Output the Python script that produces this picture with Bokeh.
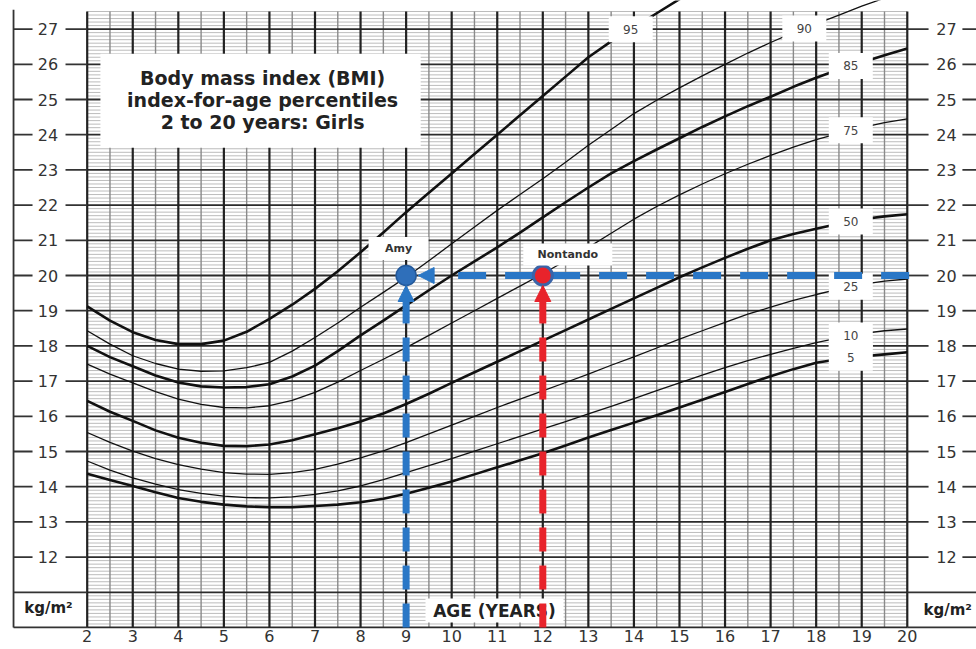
import numpy as np
from bokeh.plotting import figure
from bokeh.models import Range1d, FixedTicker, Arrow, NormalHead
from bokeh.core.properties import value
from bokeh.embed import file_html
from bokeh.resources import INLINE

# ---------------- data (every half year) ----------------
ages = [2.0, 2.5, 3.0, 3.5, 4.0, 4.5, 5.0, 5.5, 6.0, 6.5, 7.0, 7.5, 8.0, 8.5, 9.0, 9.5, 10.0, 10.5, 11.0,
        11.5, 12.0, 12.5, 13.0, 13.5, 14.0, 14.5, 15.0, 15.5, 16.0, 16.5, 17.0, 17.5, 18.0, 18.5, 19.0, 19.5, 20.0]
p95 = [19.12, 18.72, 18.39, 18.17, 18.05, 18.05, 18.15, 18.4, 18.77, 19.17, 19.62, 20.12, 20.66, 21.22, 21.8,
       22.35, 22.9, 23.45, 24.0, 24.55, 25.1, 25.65, 26.2, 26.65, 27.05, 27.45, 27.85, 28.23, 28.6, 28.95, 29.3,
       29.65, 30.0, 30.3, 30.6, 30.9, 31.2]
p90 = [18.43, 18.05, 17.72, 17.5, 17.34, 17.28, 17.29, 17.38, 17.53, 17.85, 18.24, 18.65, 19.1, 19.52, 19.95,
       20.42, 20.9, 21.38, 21.85, 22.3, 22.75, 23.22, 23.7, 24.15, 24.6, 24.98, 25.33, 25.67, 26.0, 26.32, 26.62,
       26.9, 27.15, 27.4, 27.65, 27.88, 28.1]
p85 = [18.0, 17.68, 17.42, 17.16, 16.96, 16.85, 16.82, 16.83, 16.91, 17.13, 17.44, 17.85, 18.3, 18.72, 19.15,
       19.58, 20.0, 20.4, 20.8, 21.22, 21.65, 22.08, 22.5, 22.9, 23.25, 23.58, 23.9, 24.22, 24.52, 24.81, 25.08,
       25.36, 25.62, 25.85, 26.05, 26.26, 26.45]
p75 = [17.48, 17.2, 16.95, 16.7, 16.49, 16.34, 16.25, 16.24, 16.3, 16.45, 16.68, 16.97, 17.3, 17.62, 17.95,
       18.3, 18.65, 19.0, 19.35, 19.7, 20.05, 20.42, 20.8, 21.2, 21.6, 21.96, 22.29, 22.6, 22.89, 23.16, 23.41,
       23.65, 23.86, 24.04, 24.2, 24.34, 24.45]
p50 = [16.44, 16.13, 15.87, 15.6, 15.39, 15.25, 15.16, 15.15, 15.2, 15.32, 15.49, 15.66, 15.85, 16.08, 16.35,
       16.64, 16.95, 17.25, 17.55, 17.85, 18.15, 18.45, 18.75, 19.05, 19.35, 19.65, 19.95, 20.23, 20.5, 20.76,
       21.0, 21.18, 21.33, 21.47, 21.6, 21.68, 21.74]
p25 = [15.54, 15.26, 15.01, 14.8, 14.63, 14.5, 14.4, 14.36, 14.35, 14.4, 14.49, 14.64, 14.82, 15.02, 15.25,
       15.5, 15.75, 16.0, 16.25, 16.49, 16.72, 16.96, 17.2, 17.45, 17.69, 17.94, 18.19, 18.43, 18.67, 18.9, 19.1,
       19.29, 19.46, 19.61, 19.75, 19.84, 19.9]
p10 = [14.73, 14.47, 14.25, 14.07, 13.92, 13.81, 13.73, 13.69, 13.68, 13.71, 13.78, 13.88, 14.02, 14.2, 14.4,
       14.6, 14.8, 15.01, 15.22, 15.43, 15.64, 15.85, 16.07, 16.28, 16.5, 16.73, 16.95, 17.17, 17.38, 17.58,
       17.76, 17.93, 18.09, 18.23, 18.35, 18.43, 18.48]
p5 = [14.37, 14.19, 14.02, 13.84, 13.68, 13.57, 13.49, 13.44, 13.42, 13.42, 13.45, 13.49, 13.56, 13.66, 13.8,
      13.97, 14.15, 14.35, 14.55, 14.75, 14.95, 15.17, 15.4, 15.61, 15.82, 16.03, 16.25, 16.47, 16.69, 16.92,
      17.14, 17.34, 17.52, 17.62, 17.7, 17.76, 17.82]

percentile_names = ["95", "90", "85", "75", "50", "25", "10", "5"]
percentile_values = [p95, p90, p85, p75, p50, p25, p10, p5]
thick_percentiles = ["95", "85", "50", "5"]

amy_age, amy_bmi = 9, 20
nontando_age, nontando_bmi = 12, 20

age_ticks = [2, 3, 4, 5, 6, 7, 8, 9, 10, 11, 12, 13, 14, 15, 16, 17, 18, 19, 20]
y_ticks = [12, 13, 14, 15, 16, 17, 18, 19, 20, 21, 22, 23, 24, 25, 26, 27]
title_lines = ["Body mass index (BMI)", "index-for-age percentiles", "2 to 20 years: Girls"]

# ---------------- layout / style ----------------
PXX = 45.56   # px per year
PXY = 35.2    # px per kg/m2
X0 = 2 - 86.7 / PXX
X1 = X0 + 976 / PXX
Y1 = 20 + 275 / PXY
Y0 = Y1 - 628 / PXY
G_LEFT, G_RIGHT = age_ticks[0], age_ticks[-1]
G_BOTTOM, G_TOP = 10, 27.5
BLUE = "#2a77c6"
RED = "#e8232b"
FONT = value("DejaVu Sans")

p = figure(frame_width=976, frame_height=628, x_range=Range1d(X0, X1), y_range=Range1d(Y0, Y1),
           min_border=0, toolbar_location=None, output_backend="svg", y_axis_location=None,
           outline_line_color=None, background_fill_color="white", border_fill_color="white")
p.grid.visible = False
ax = p.xaxis[0]
ax.ticker = FixedTicker(ticks=age_ticks)
ax.axis_line_color = None
ax.major_tick_line_color = None
ax.minor_tick_line_color = None
ax.major_label_text_font = "DejaVu Sans"
ax.major_label_text_font_size = "16px"
ax.major_label_text_color = "#333333"
ax.major_label_standoff = -5

# ---------------- grid ----------------
minor_h = [round(float(v), 1) for v in np.arange(G_BOTTOM, G_TOP + 0.001, 0.1) if abs(v - round(v)) > 0.01]
major_h = list(range(G_BOTTOM, 28))
minor_v = [a + 0.5 for a in age_ticks[:-1]]

p.segment(x0=G_LEFT, y0=minor_h, x1=G_RIGHT, y1=minor_h, line_color="#b4b4b4", line_width=0.9)
p.segment(x0=minor_v, y0=G_BOTTOM, x1=minor_v, y1=G_TOP, line_color="#8a8a8a", line_width=1.4)
p.segment(x0=G_LEFT, y0=major_h, x1=G_RIGHT, y1=major_h, line_color="#2b2b2b", line_width=1.8)
p.segment(x0=age_ticks, y0=G_BOTTOM, x1=age_ticks, y1=G_TOP, line_color="#222222", line_width=2.2)

# side panels
LP_EDGE = 0.383
p.segment(x0=LP_EDGE, y0=G_BOTTOM, x1=LP_EDGE, y1=27.55, line_color="#333333", line_width=1.8)
p.segment(x0=LP_EDGE, y0=y_ticks, x1=0.80, y1=y_ticks, line_color="#333333", line_width=1.8)
p.segment(x0=1.524, y0=y_ticks, x1=G_LEFT, y1=y_ticks, line_color="#333333", line_width=1.8)
p.segment(x0=G_RIGHT, y0=y_ticks, x1=20.467, y1=y_ticks, line_color="#333333", line_width=1.8)
p.segment(x0=21.21, y0=y_ticks, x1=X1, y1=y_ticks, line_color="#333333", line_width=1.8)
p.segment(x0=LP_EDGE, y0=[10, 11], x1=G_LEFT, y1=[10, 11], line_color="#333333", line_width=1.8)
p.segment(x0=G_RIGHT, y0=[10, 11], x1=X1, y1=[10, 11], line_color="#333333", line_width=1.8)

tick_text = [str(v) for v in y_ticks]
for tx in (1.14, 20.86):
    p.text(x=tx, y=y_ticks, text=tick_text, text_font=FONT, text_font_size="16px",
           text_color="#333333", text_align="center", text_baseline="middle")

p.text(x=1.15, y=10.54, text=["kg/m²"], text_font=FONT, text_font_size="15px", text_font_style="bold",
       text_color="#222222", text_align="center", text_baseline="middle")
p.text(x=20.356, y=10.51, text=["kg/m²"], text_font=FONT, text_font_size="15px", text_font_style="bold",
       text_color="#222222", text_align="left", text_baseline="middle")

# title box
p.quad(left=2.29, right=9.32, bottom=23.63, top=26.30, fill_color="white", line_color=None)
p.text(x=5.85, y=[25.625, 24.985, 24.375], text=title_lines, text_font=FONT, text_font_size="19px",
       text_font_style="bold", text_color="#222222", text_align="center", text_baseline="middle")

# ---------------- percentile curves ----------------
for name, vals in zip(percentile_names, percentile_values):
    p.line(ages, vals, line_color="#111111", line_width=2.6 if name in thick_percentiles else 1.3,
           line_join="round")

lab_x, lab_y = [], []
for name, vals in zip(percentile_names, percentile_values):
    la = 13.93 if name == "95" else (17.74 if name == "90" else 18.76)
    lab_x.append(la)
    lab_y.append(float(np.interp(la, ages, vals)))
p.rect(x=lab_x, y=lab_y, width=44, height=26, width_units="screen", height_units="screen",
       fill_color="white", line_color=None)
p.text(x=lab_x, y=lab_y, text=percentile_names, text_font=FONT, text_font_size="12px",
       text_color="#444444", text_align="center", text_baseline="middle")

# AGE label
p.rect(x=10.94, y=10.483, width=138, height=24, width_units="screen", height_units="screen",
       fill_color="white", line_color=None)
p.text(x=10.94, y=10.47, text=["AGE (YEARS)"], text_font=FONT, text_font_size="17px", text_font_style="bold",
       text_color="#222222", text_align="center", text_baseline="middle")

# ---------------- plotted children ----------------
dot_r = 10
head = 16
p.line([amy_age, amy_age], [G_BOTTOM, amy_bmi - (dot_r + head - 2) / PXY], line_color=BLUE,
       line_width=7, line_dash="24 14")
p.line([nontando_age, nontando_age], [G_BOTTOM, nontando_bmi - (dot_r + head - 2) / PXY], line_color=RED,
       line_width=7, line_dash="24 14")
p.line([amy_age + 52 / PXX, G_RIGHT + 10 / PXX], [amy_bmi, amy_bmi], line_color=BLUE,
       line_width=7, line_dash="28 19")

p.add_layout(Arrow(end=NormalHead(size=head, fill_color=BLUE, line_color=BLUE, line_width=1),
                   x_start=amy_age, y_start=amy_bmi - 1, x_end=amy_age, y_end=amy_bmi - dot_r / PXY,
                   line_alpha=0))
p.add_layout(Arrow(end=NormalHead(size=head, fill_color=BLUE, line_color=BLUE, line_width=1),
                   x_start=amy_age + 1, y_start=amy_bmi, x_end=amy_age + (dot_r + 2) / PXX, y_end=amy_bmi,
                   line_alpha=0))
p.add_layout(Arrow(end=NormalHead(size=head, fill_color=RED, line_color=RED, line_width=1),
                   x_start=nontando_age, y_start=nontando_bmi - 1, x_end=nontando_age,
                   y_end=nontando_bmi - dot_r / PXY, line_alpha=0))

p.scatter([amy_age], [amy_bmi], size=20, fill_color="#2f6fba", line_color="#24599a", line_width=1.5)
p.scatter([nontando_age], [nontando_bmi], size=19, fill_color=RED, line_color="#3a64a8", line_width=3)

amy_lx, amy_ly = amy_age - 7.6 / PXX, amy_bmi + 27 / PXY
non_lx, non_ly = nontando_age + 25 / PXX, nontando_bmi + 21 / PXY
p.rect(x=[amy_lx, non_lx], y=[amy_ly, non_ly], width=[60, 89], height=[23, 22], width_units="screen",
       height_units="screen", fill_color="white", line_color=None)
p.text(x=[amy_lx, non_lx], y=[amy_ly, non_ly], text=["Amy", "Nontando"], text_font=FONT,
       text_font_size="11px", text_font_style="bold", text_color="#333333", text_align="center",
       text_baseline="middle")

open("out.html", "w").write(file_html(p, INLINE))
